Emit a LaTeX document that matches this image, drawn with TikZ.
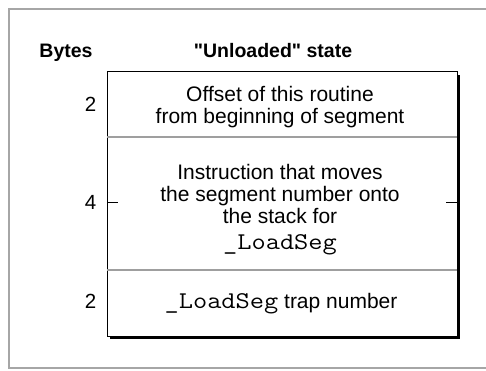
\documentclass[tikz,border=0pt]{standalone}
\usepackage{fontspec}
\setmainfont{Liberation Sans}
\newfontfamily\plainsans{Liberation Sans}
\newfontfamily\courfont{Latin Modern Mono}[FakeStretch=1.15]
\newcommand{\monoseg}{{\fontsize{24}{26}\selectfont\courfont \_LoadSeg}}
\begin{document}
\begin{tikzpicture}[x=1pt,y=-1pt,
  txt/.style={font=\fontsize{21}{22}\selectfont, align=center, inner sep=0pt},
  head/.style={font=\fontsize{19.5}{22}\selectfont\plainsans\bfseries, inner sep=0pt, anchor=base},
  num/.style={font=\fontsize{20.5}{22}\selectfont, inner sep=0pt, anchor=base},
  divider/.style={draw=gray!75, line width=1.2pt},
  tick/.style={draw=black, line width=0.8pt}]
\useasboundingbox (0,0) rectangle (486,370);
% outer frame
\draw[gray!70, line width=1.2pt] (487,9) -- (9,9) -- (9,368) -- (487,368);
% shadow and box
\fill[black] (110,75) rectangle (460,339);
\node[draw=black, fill=white, line width=0.8pt, minimum width=350pt, minimum height=265pt, inner sep=0pt, anchor=north west] (box) at (107,71) {};
% section coordinates
\coordinate (d1l) at (107,137);
\coordinate (d1r) at (457,137);
\coordinate (d2l) at (107,270);
\coordinate (d2r) at (457,270);
\draw[divider] (d1l) -- (d1r);
\draw[divider] (d2l) -- (d2r);
% ticks
\coordinate (tl0) at (107,202);
\coordinate (tl1) at (118,202);
\coordinate (tr0) at (446,202);
\coordinate (tr1) at (457,202);
\draw[tick] (tl0) -- (tl1);
\draw[tick] (tr0) -- (tr1);
% headings
\node[head] (bytes) at (66,57) {Bytes};
\node[head] (title) at (273,57) {"Unloaded" state};
% numbers
\node[num] (n1) at (90.5,111) {2};
\node[num] (n2) at (90.5,209) {4};
\node[num] (n3) at (90.5,308) {2};
% section texts
\node[txt] (s1) at (280,107) {Offset of this routine\\from beginning of segment};
\node[txt] (s2) at (280,210) {Instruction that moves\\the segment number onto\\the stack for\\[4pt]\monoseg};
\node[txt, anchor=base] (s3) at (281,308) {\monoseg{} trap number};
\end{tikzpicture}
\end{document}
